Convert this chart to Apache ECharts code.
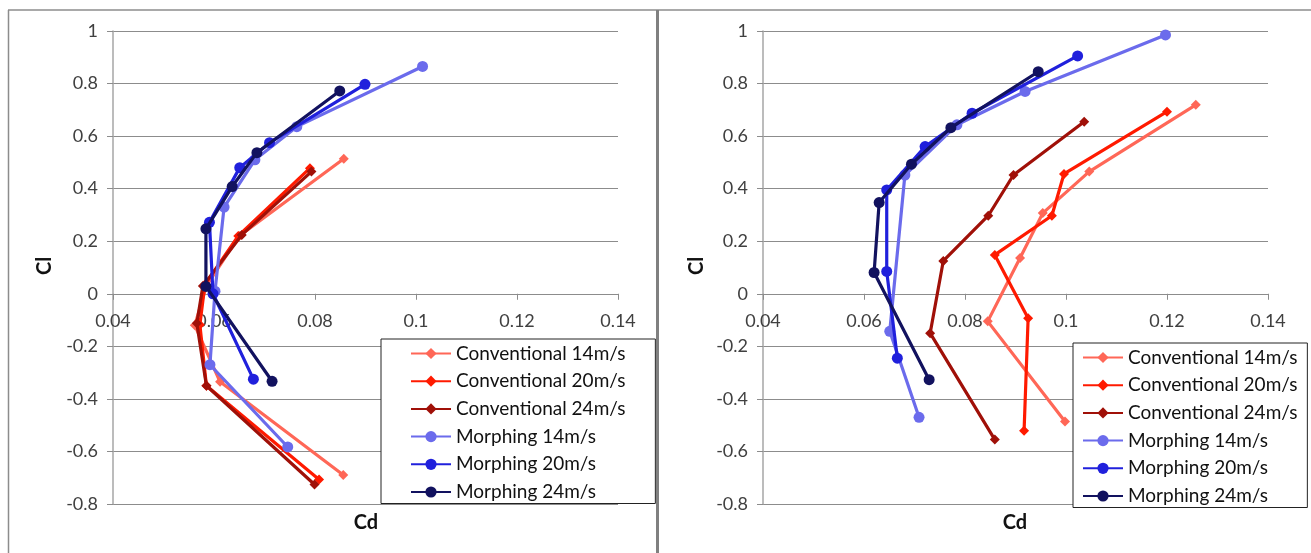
<!DOCTYPE html>
<html lang="en">
<head>
<meta charset="UTF-8">
<title>Cl - Cd</title>
<script src="https://cdn.jsdelivr.net/npm/echarts@6/dist/echarts.min.js"></script>
<style>
    html, body { margin: 0; padding: 0; background: #fff; }
    #main { width: 1311px; height: 553px; }
</style>
</head>
<body>
<div id="main"></div>
<script type="text/javascript">

    // series names (legend order)
    var seriesNames = ['Conventional 14m/s', 'Conventional 20m/s', 'Conventional 24m/s',
                       'Morphing 14m/s', 'Morphing 20m/s', 'Morphing 24m/s'];

    // left chart, [Cd, Cl]
    var leftConv14 = [[0.0857, 0.514], [0.065, 0.22], [0.0585, 0.03], [0.0562, -0.12], [0.0612, -0.335], [0.0856, -0.69]];
    var leftConv20 = [[0.079, 0.478], [0.0648, 0.22], [0.0582, 0.035], [0.0572, -0.118], [0.0585, -0.35], [0.0808, -0.707]];
    var leftConv24 = [[0.0793, 0.465], [0.0655, 0.224], [0.0578, 0.03], [0.0566, -0.112], [0.0585, -0.35], [0.0799, -0.726]];
    var leftMorph14 = [[0.1013, 0.865], [0.0764, 0.636], [0.0681, 0.51], [0.062, 0.33], [0.0602, 0.01], [0.0592, -0.27], [0.0746, -0.583]];
    var leftMorph20 = [[0.0899, 0.797], [0.071, 0.575], [0.0651, 0.48], [0.0591, 0.272], [0.0598, 0.0], [0.0678, -0.325]];
    var leftMorph24 = [[0.0849, 0.772], [0.0685, 0.537], [0.0636, 0.408], [0.0584, 0.247], [0.0584, 0.028], [0.0715, -0.333]];

    // right chart, [Cd, Cl]
    var rightConv14 = [[0.1257, 0.719], [0.1046, 0.465], [0.0954, 0.307], [0.0909, 0.136], [0.0845, -0.105], [0.0998, -0.486]];
    var rightConv20 = [[0.12, 0.693], [0.0996, 0.456], [0.0972, 0.297], [0.0859, 0.148], [0.0925, -0.093], [0.0917, -0.521]];
    var rightConv24 = [[0.1036, 0.655], [0.0896, 0.452], [0.0846, 0.297], [0.0757, 0.125], [0.0731, -0.15], [0.0859, -0.555]];
    var rightMorph14 = [[0.1197, 0.985], [0.0919, 0.77], [0.0784, 0.643], [0.0681, 0.452], [0.0651, -0.143], [0.0709, -0.47]];
    var rightMorph20 = [[0.1023, 0.905], [0.0814, 0.687], [0.0721, 0.56], [0.0645, 0.395], [0.0645, 0.085], [0.0666, -0.245]];
    var rightMorph24 = [[0.0945, 0.845], [0.0772, 0.632], [0.0694, 0.493], [0.063, 0.347], [0.062, 0.081], [0.0729, -0.327]];

    var leftData = [leftConv14, leftConv20, leftConv24, leftMorph14, leftMorph20, leftMorph24];
    var rightData = [rightConv14, rightConv20, rightConv24, rightMorph14, rightMorph20, rightMorph24];

    var colors = ['#ff6757', '#ff1a00', '#a01008', '#6b6bec', '#2020dc', '#12125f'];
    var symbols = ['diamond', 'diamond', 'diamond', 'circle', 'circle', 'circle'];
    var symbolSizes = [10, 10, 10, 11, 11, 11];

    var font = 'Lato, "Open Sans", sans-serif';

    var chart = echarts.init(document.getElementById('main'));

    // plot is 473px tall for Cl -0.8..1, so Cl = 0 sits 210px above the bottom
    var zeroOffset = -473 * 0.8 / 1.8;

    function makeXAxis(idx) {
        return {
            type: 'value', gridIndex: idx, min: 0.04, max: 0.14, interval: 0.02,
            position: 'bottom', offset: zeroOffset,
            axisLine: { show: true, onZero: false, lineStyle: { color: '#8c8c8c', width: 1 } },
            axisTick: { show: true, inside: false, length: 6, lineStyle: { color: '#8c8c8c' } },
            axisLabel: { margin: 18, fontFamily: font, fontSize: 18, color: '#404040' },
            splitLine: { show: false }
        };
    }
    function makeYAxis(idx) {
        return {
            type: 'value', gridIndex: idx, min: -0.8, max: 1, interval: 0.2,
            axisLine: { show: true, onZero: false, lineStyle: { color: '#a6a6a6', width: 1.5 } },
            axisTick: { show: true, length: 6, lineStyle: { color: '#8c8c8c' } },
            axisLabel: { margin: 15, fontFamily: font, fontSize: 18, color: '#404040' },
            splitLine: { show: true, lineStyle: { color: '#8c8c8c', width: 1 } }
        };
    }

    var series = [];
    function addSeries(dataSets, idx) {
        for (var i = 0; i < dataSets.length; i++) {
            series.push({
                name: seriesNames[i],
                type: 'line',
                xAxisIndex: idx, yAxisIndex: idx,
                data: dataSets[i],
                symbol: symbols[i],
                symbolSize: symbolSizes[i],
                showSymbol: true,
                color: colors[i],
                lineStyle: { width: 3.2, color: colors[i] },
                itemStyle: { color: colors[i] },
                animation: false,
                z: 2 + i
            });
        }
    }
    addSeries(leftData, 0);
    addSeries(rightData, 1);

    function makeLegend(left, top, padding) {
        return {
            orient: 'vertical', left: left, top: top,
            data: seriesNames,
            itemWidth: 40, itemHeight: 14, itemGap: 8.7,
            padding: padding,
            borderColor: '#222', borderWidth: 1,
            backgroundColor: '#fff',
            textStyle: { fontFamily: font, fontSize: 19, color: '#111' },
            selectedMode: false
        };
    }

    var option = {
        animation: false,
        grid: [
            { left: 113, right: 693, top: 31, bottom: 49 },
            { left: 763, right: 43, top: 31, bottom: 49 }
        ],
        xAxis: [makeXAxis(0), makeXAxis(1)],
        yAxis: [makeYAxis(0), makeYAxis(1)],
        legend: [
            makeLegend(381, 339, [5, 30, 2, 29]),
            makeLegend(1073, 343, [5, 10, 2, 9])
        ],
        series: series,
        graphic: [
            // panel frames
            { type: 'line', shape: { x1: 8, y1: 10, x2: 1311, y2: 10 }, style: { stroke: '#8c8c8c', lineWidth: 1.5 }, silent: true },
            { type: 'line', shape: { x1: 8.5, y1: 10, x2: 8.5, y2: 553 }, style: { stroke: '#8c8c8c', lineWidth: 1.5 }, silent: true },
            { type: 'line', shape: { x1: 657.5, y1: 10, x2: 657.5, y2: 553 }, style: { stroke: '#808080', lineWidth: 3 }, silent: true },
            // axis titles
            { type: 'text', x: 366, y: 523, style: { text: 'Cd', font: 'bold 20px ' + font, fill: '#111', align: 'center', verticalAlign: 'middle' }, silent: true },
            { type: 'text', x: 1015, y: 523, style: { text: 'Cd', font: 'bold 20px ' + font, fill: '#111', align: 'center', verticalAlign: 'middle' }, silent: true },
            { type: 'text', x: 45, y: 266, rotation: Math.PI / 2, style: { text: 'Cl', font: 'bold 20px ' + font, fill: '#111', align: 'center', verticalAlign: 'middle' }, silent: true },
            { type: 'text', x: 697, y: 266, rotation: Math.PI / 2, style: { text: 'Cl', font: 'bold 20px ' + font, fill: '#111', align: 'center', verticalAlign: 'middle' }, silent: true }
        ]
    };
    chart.setOption(option);
</script>
</body>
</html>
